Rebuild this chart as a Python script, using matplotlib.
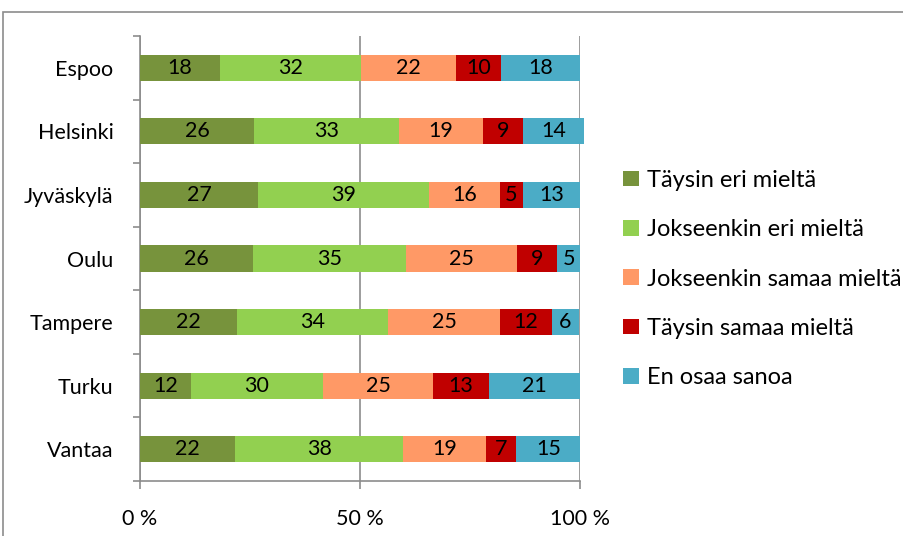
import matplotlib
matplotlib.use("Agg")
import matplotlib.pyplot as plt
from matplotlib.patches import Rectangle
import numpy as np

plt.rcParams['font.family'] = ['Lato', 'DejaVu Sans']

cities = ["Espoo", "Helsinki", "Jyväskylä", "Oulu", "Tampere", "Turku", "Vantaa"]
series = ["Täysin eri mieltä", "Jokseenkin eri mieltä", "Jokseenkin samaa mieltä",
          "Täysin samaa mieltä", "En osaa sanoa"]
colors = ["#77933C", "#92D050", "#FF9966", "#C00000", "#4BACC6"]

# values per series (percent), in city order
taysin_eri = [18.2, 25.9, 26.8, 25.7, 22.0, 11.6, 21.6]
jok_eri = [32.0, 33.0, 38.9, 34.8, 34.4, 30.0, 38.2]
jok_samaa = [21.6, 19.1, 16.1, 25.2, 25.4, 25.0, 18.9]
taysin_samaa = [10.2, 9.1, 5.2, 9.1, 11.8, 12.7, 6.8]
en_osaa = [18.0, 13.9, 13.0, 5.2, 6.1, 20.7, 14.6]
data = [taysin_eri, jok_eri, jok_samaa, taysin_samaa, en_osaa]

xticks = [0, 50, 100]
xticklabels = ["0 %", "50 %", "100 %"]

fig = plt.figure(figsize=(9.04, 5.36), dpi=100)
fig.patches.append(Rectangle((3 / 904, -0.1), 1.1, (536 - 12) / 536 + 0.1,
                             transform=fig.transFigure, fill=False,
                             edgecolor="#8c8c8c", linewidth=1.2))
ax = fig.add_axes([140 / 904, 1 - 481 / 536, 440 / 904, (481 - 36) / 536])

y = np.arange(len(cities))
left = np.zeros(len(cities))
for vals, col, name in zip(data, colors, series):
    vals = np.array(vals)
    bars = ax.barh(y, vals, left=left, height=0.41, color=col, label=name, zorder=3)
    for b in bars:
        b.set_clip_on(False)
    for yi, (l, v) in enumerate(zip(left, vals)):
        ax.text(l + v / 2, yi, f"{int(np.floor(v + 0.5)):d}", ha="center", va="center",
                fontsize=15.5, color="black", zorder=4)
    left += vals

ax.set_ylim(len(cities) - 0.5, -0.5)
ax.set_xlim(0, 100)
ax.set_yticks(y)
ax.set_yticklabels(cities, fontsize=15.5)
ax.set_yticks(np.arange(len(cities) + 1) - 0.5, minor=True)
ax.tick_params(axis="y", which="major", length=0, pad=19)
ax.tick_params(axis="y", which="minor", length=5, color="#8c8c8c", width=1.2)
ax.set_xticks(xticks)
ax.set_xticklabels(xticklabels, fontsize=15.5)
ax.tick_params(axis="x", length=6, color="#8c8c8c", width=1.2, pad=14)
ax.xaxis.grid(True, color="#8c8c8c", linewidth=1.2, zorder=0)
for s in ["top", "right"]:
    ax.spines[s].set_visible(False)
for s in ["left", "bottom"]:
    ax.spines[s].set_color("#8c8c8c")
    ax.spines[s].set_linewidth(1.2)

leg = fig.legend(loc="center left", bbox_to_anchor=(602 / 904, 1 - 279 / 536),
                 frameon=False, fontsize=17, handlelength=0.65, handleheight=0.65,
                 handletextpad=0.35, labelspacing=1.2)

fig.savefig("out.png", dpi=100)
